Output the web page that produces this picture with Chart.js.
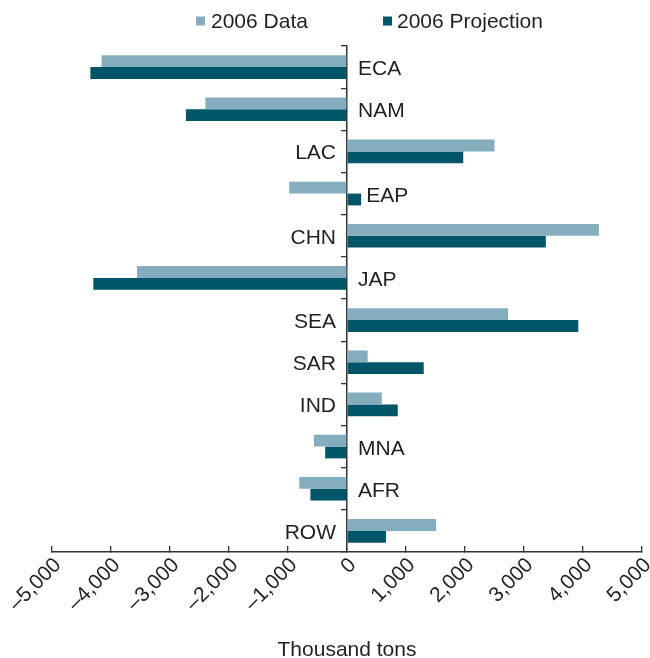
<!DOCTYPE html>
<html>
<head>
<meta charset="utf-8">
<script src="https://cdn.jsdelivr.net/npm/chart.js@4"></script>
<style>
  html, body { margin: 0; padding: 0; background: #fff; }
</style>
</head>
<body>
<canvas id="myChart" width="650" height="658"></canvas>
<script>
const regions = ["ECA", "NAM", "LAC", "EAP", "CHN", "JAP", "SEA", "SAR", "IND", "MNA", "AFR", "ROW"];
const data2006 = [-4160, -2400, 2500, -980, 4270, -3560, 2730, 350, 590, -560, -810, 1510];
const projection2006 = [-4350, -2730, 1970, 240, 3370, -4300, 3920, 1300, 860, -370, -620, 660];
const xMin = -5000;
const xMax = 5000;
const xStep = 1000;

const textColor = "#231f20";
const lightTeal = "#84aebd";
const darkTeal = "#005668";

Chart.defaults.font.family = "'Liberation Sans', Arial, sans-serif";
Chart.defaults.font.size = 21;
Chart.defaults.color = textColor;

const fmt = (v) => {
  const s = Math.abs(v).toLocaleString("en-US");
  return v < 0 ? "\u2013" + s : s;
};

// legend drawn by hand so it sits where the original one does
const legendPlugin = {
  id: "legendPlugin",
  afterDraw(chart) {
    const ctx = chart.ctx;
    const spots = [{ box: 196, text: 211 }, { box: 383, text: 397 }];
    ctx.save();
    ctx.font = "21px 'Liberation Sans', Arial, sans-serif";
    ctx.textBaseline = "alphabetic";
    ctx.textAlign = "left";
    chart.data.datasets.forEach((ds, i) => {
      ctx.fillStyle = ds.backgroundColor;
      ctx.fillRect(spots[i].box, 16.5, 9, 9);
      ctx.fillStyle = textColor;
      ctx.fillText(ds.label, spots[i].text, 27.5);
    });
    ctx.restore();
  },
};

// region names next to the zero line
const regionLabels = {
  id: "regionLabels",
  afterDatasetsDraw(chart) {
    const ctx = chart.ctx;
    const x = chart.scales.x;
    const y = chart.scales.y;
    const zero = x.getPixelForValue(0);
    ctx.save();
    ctx.font = "21px 'Liberation Sans', Arial, sans-serif";
    ctx.fillStyle = textColor;
    ctx.textBaseline = "alphabetic";
    regions.forEach((r, i) => {
      const yc = y.getPixelForValue(i) + 8;
      if (data2006[i] < 0) {
        const posEnd = Math.max(0, projection2006[i]);
        const px = Math.max(zero + 11, x.getPixelForValue(posEnd) + 5);
        ctx.textAlign = "left";
        ctx.fillText(r, px, yc);
      } else {
        ctx.textAlign = "right";
        ctx.fillText(r, zero - 11, yc);
      }
    });
    ctx.restore();
  },
};

const ctx = document.getElementById("myChart").getContext("2d");
window.grafica = new Chart(ctx, {
  type: "bar",
  data: {
    labels: regions,
    datasets: [
      { label: "2006 Data", data: data2006, backgroundColor: lightTeal },
      { label: "2006 Projection", data: projection2006, backgroundColor: darkTeal },
    ],
  },
  options: {
    indexAxis: "y",
    responsive: false,
    animation: false,
    devicePixelRatio: 1,
    categoryPercentage: 0.56,
    barPercentage: 1,
    layout: { padding: { top: 46, left: 52, right: 8, bottom: 0 } },
    plugins: {
      legend: { display: false },
      tooltip: { enabled: false },
    },
    scales: {
      x: {
        min: xMin,
        max: xMax,
        grid: { drawOnChartArea: false, tickLength: -6, color: "#333", lineWidth: 1.3 },
        border: { color: "#333", width: 1.5 },
        ticks: {
          stepSize: xStep,
          minRotation: 45,
          maxRotation: 45,
          padding: 7,
          labelOffset: 6,
          callback: (v) => fmt(v),
        },
        title: {
          display: true,
          text: "Thousand tons",
          padding: { top: 0, bottom: -5 },
        },
        afterFit(s) {
          s.height = 106;
          s.paddingLeft = 0;
          s.paddingRight = 0;
        },
      },
      y: {
        position: { x: 0 },
        grid: { offset: true, drawOnChartArea: false, tickLength: 5, color: "#333", lineWidth: 1.3 },
        border: { color: "#333", width: 1.5 },
        ticks: { display: false },
        afterFit(s) {
          s.width = 0;
          s.paddingTop = 0;
          s.paddingBottom = 0;
        },
      },
    },
  },
  plugins: [legendPlugin, regionLabels],
});
</script>
</body>
</html>
